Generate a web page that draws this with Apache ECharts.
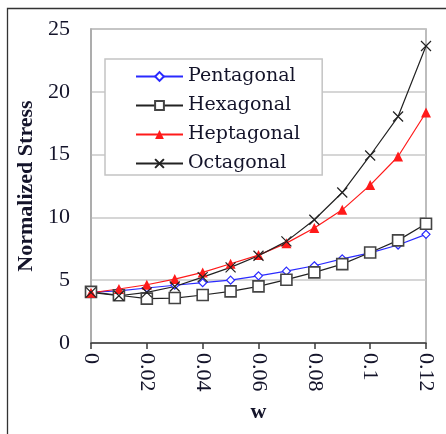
<!DOCTYPE html>
<html>
<head>
<meta charset="utf-8">
<script src="https://cdn.jsdelivr.net/npm/echarts@6/dist/echarts.min.js"></script>
<style>html,body{margin:0;padding:0;background:#fff}#c{width:446px;height:434px}</style>
</head>
<body>
<div id="c"></div>
<script>
const wValues = [0, 0.01, 0.02, 0.03, 0.04, 0.05, 0.06, 0.07, 0.08, 0.09, 0.10, 0.11, 0.12];
const seriesNames = ['Pentagonal', 'Hexagonal', 'Heptagonal', 'Octagonal'];
const pentagonal = [4.05, 4.15, 4.38, 4.6, 4.8, 5.0, 5.35, 5.72, 6.15, 6.7, 7.18, 7.8, 8.65];
const hexagonal  = [4.07, 3.8, 3.53, 3.58, 3.82, 4.11, 4.51, 5.04, 5.62, 6.28, 7.21, 8.17, 9.49];
const heptagonal = [4.0, 4.3, 4.64, 5.09, 5.62, 6.31, 7.0, 7.95, 9.15, 10.6, 12.57, 14.85, 18.35];
const octagonal  = [4.03, 3.76, 4.03, 4.5, 5.25, 6.02, 6.95, 8.09, 9.81, 11.98, 14.93, 18.03, 23.65];
const yTicks = [0, 5, 10, 15, 20, 25];
const xTicks = [0, 0.02, 0.04, 0.06, 0.08, 0.1, 0.12];

const pairs = vals => wValues.map((w, i) => [w, vals[i]]);
const serif = '"Liberation Serif", "DejaVu Serif", serif';
const wideSerif = '"DejaVu Serif", "Liberation Serif", serif';
const xMark = 'path://M0,0L10,10M10,0L0,10';

const chart = echarts.init(document.getElementById('c'), null, {renderer: 'canvas'});
chart.setOption({
  animation: false,
  backgroundColor: '#fff',
  graphic: [{
    type: 'rect', z: -10,
    shape: {x: 7.5, y: 8.5, width: 480, height: 480},
    style: {fill: 'none', stroke: '#333', lineWidth: 1.3}
  }],
  grid: {left: 91, right: 20, top: 29, bottom: 91, show: true, borderColor: '#a8a8a8', borderWidth: 1.5},
  legend: {
    orient: 'vertical', left: 105, top: 59,
    backgroundColor: '#fff', borderColor: '#c4c4c4', borderWidth: 1.5,
    padding: [8, 22, 2, 30],
    itemWidth: 47, itemHeight: 11, itemGap: 10,
    textStyle: {fontFamily: wideSerif, fontSize: 19, color: '#14142a'},
    data: seriesNames
  },
  xAxis: {
    type: 'value', min: 0, max: 0.12, interval: 0.02,
    name: 'w', nameLocation: 'middle', nameGap: 58,
    nameTextStyle: {fontFamily: serif, fontSize: 22, fontWeight: 'bold', color: '#14142a'},
    axisLine: {show: true, lineStyle: {color: '#3a3a3a', width: 1.5}},
    axisTick: {show: true, length: 6, lineStyle: {color: '#3a3a3a', width: 1.5}},
    axisLabel: {rotate: -90, margin: 10, fontFamily: serif, fontSize: 22, color: '#14142a',
      formatter: v => String(+v.toFixed(2))},
    splitLine: {show: false}
  },
  yAxis: {
    type: 'value', min: 0, max: 25, interval: 5,
    name: 'Normalized Stress', nameLocation: 'middle', nameGap: 48,
    nameTextStyle: {fontFamily: serif, fontSize: 22, fontWeight: 'bold', color: '#14142a'},
    axisLine: {show: true, lineStyle: {color: '#a8a8a8', width: 1.5}},
    axisTick: {show: false},
    axisLabel: {margin: 21, fontFamily: serif, fontSize: 22, color: '#14142a'},
    splitLine: {show: true, lineStyle: {color: '#c8c8c8', width: 1.5}}
  },
  series: [
    {name: seriesNames[0], type: 'line', data: pairs(pentagonal),
     symbol: 'diamond', symbolSize: 8, showAllSymbol: true,
     lineStyle: {color: '#2a2aff', width: 1.2},
     itemStyle: {color: '#fff', borderColor: '#2a2aff', borderWidth: 1.2}},
    {name: seriesNames[1], type: 'line', data: pairs(hexagonal),
     symbol: 'rect', symbolSize: 11, showAllSymbol: true,
     lineStyle: {color: '#222', width: 1.2},
     itemStyle: {color: '#fff', borderColor: '#444', borderWidth: 1.6}},
    {name: seriesNames[2], type: 'line', data: pairs(heptagonal),
     symbol: 'triangle', symbolSize: 10, showAllSymbol: true,
     lineStyle: {color: '#ff1a1a', width: 1.2},
     itemStyle: {color: '#ff1a1a', borderColor: '#ff1a1a', borderWidth: 0}},
    {name: seriesNames[3], type: 'line', data: pairs(octagonal),
     symbol: xMark, symbolSize: 10, showAllSymbol: true,
     lineStyle: {color: '#222', width: 1.2},
     itemStyle: {color: 'none', borderColor: '#222', borderWidth: 1.2}}
  ]
});
</script>
</body>
</html>
